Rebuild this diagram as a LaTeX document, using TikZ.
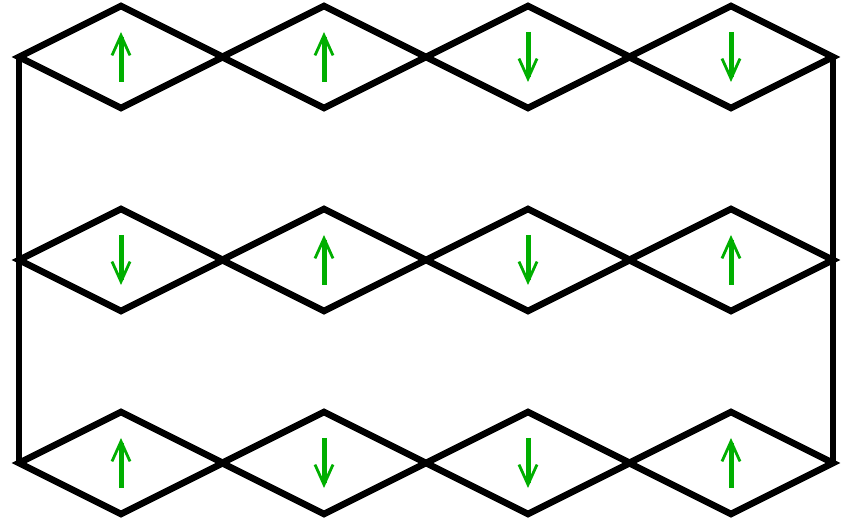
\documentclass[tikz,border=0pt]{standalone}
\usetikzlibrary{arrows.meta}
\definecolor{spin}{RGB}{0,175,0}
\tikzset{
  lattice/.style={line width=6.5pt, line join=miter, black},
  spinarrow/.style={line width=5pt, spin, -{Straight Barb[length=20pt,width=18pt,line width=2.8pt]}},
}
\begin{document}
\begin{tikzpicture}[x=1pt,y=-1pt]
\useasboundingbox (0,0) rectangle (844,521);
\foreach \r/\yc in {1/57,2/260,3/463}{
  \foreach \c/\xc in {1/121,2/324,3/528,4/731}{
    \coordinate (L\r\c) at (\xc-102,\yc);
    \coordinate (T\r\c) at (\xc,\yc-51);
    \coordinate (R\r\c) at (\xc+102,\yc);
    \coordinate (B\r\c) at (\xc,\yc+51);
    \coordinate (Up\r\c) at (\xc,\yc-25);
    \coordinate (Dn\r\c) at (\xc,\yc+25);
    \draw[lattice] (L\r\c) -- (T\r\c) -- (R\r\c) -- (B\r\c) -- cycle;
  }
}
\draw[lattice] (L11) -- (L31);
\draw[lattice] (R14) -- (R34);
% row 1: up up down down
\draw[spinarrow] (Dn11) -- (Up11);
\draw[spinarrow] (Dn12) -- (Up12);
\draw[spinarrow] (Up13) -- (Dn13);
\draw[spinarrow] (Up14) -- (Dn14);
% row 2: down up down up
\draw[spinarrow] (Up21) -- (Dn21);
\draw[spinarrow] (Dn22) -- (Up22);
\draw[spinarrow] (Up23) -- (Dn23);
\draw[spinarrow] (Dn24) -- (Up24);
% row 3: up down down up
\draw[spinarrow] (Dn31) -- (Up31);
\draw[spinarrow] (Up32) -- (Dn32);
\draw[spinarrow] (Up33) -- (Dn33);
\draw[spinarrow] (Dn34) -- (Up34);
\end{tikzpicture}
\end{document}
